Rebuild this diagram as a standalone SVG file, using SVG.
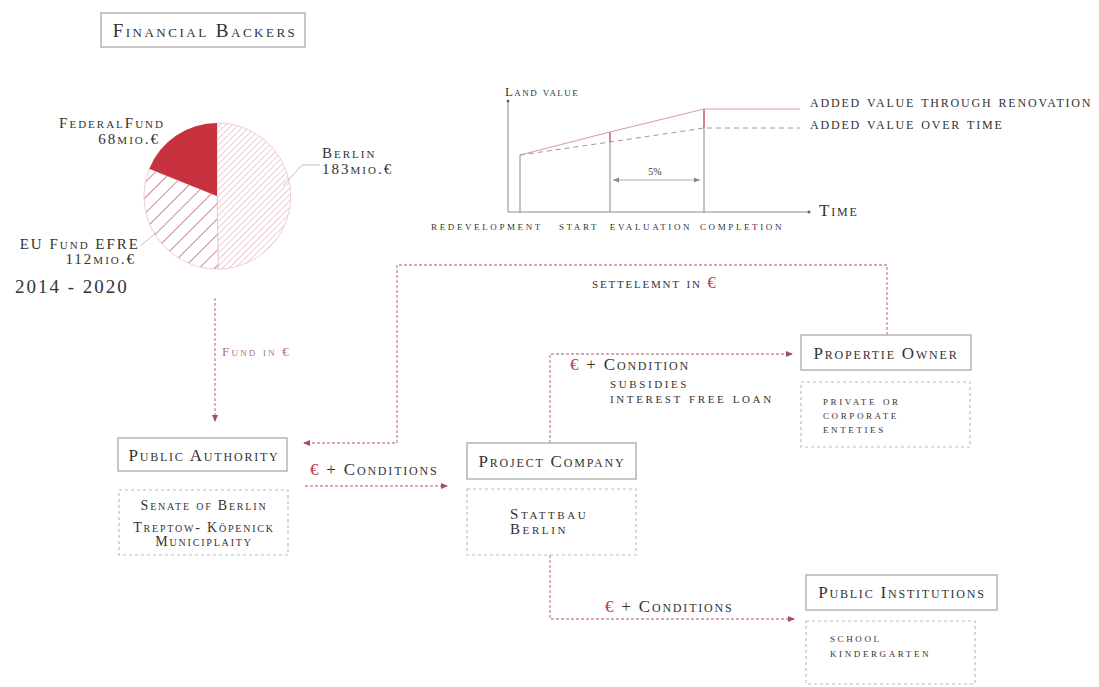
<svg xmlns="http://www.w3.org/2000/svg" width="1099" height="687" viewBox="0 0 1099 687">
  <style>
    text { font-family: "Liberation Serif", "DejaVu Serif", serif; fill: #333; }
    .sc { font-variant: small-caps; }
    .title { font-size: 19px; letter-spacing: 2.5px; }
    .lbl { font-size: 17px; letter-spacing: 1.8px; }
    .sub { font-size: 15px; letter-spacing: 2.6px; }
    .sub2 { font-size: 14px; letter-spacing: 1.8px; }
    .axl { font-size: 17px; letter-spacing: 1.8px; }
    .tiny { font-size: 13px; letter-spacing: 2.6px; }
    .pie { font-size: 15px; letter-spacing: 2px; }
    .eur { fill: #c0405a; }
    .box { fill: #fff; stroke: #b4b4b4; stroke-width: 1.5; }
    .dbox { fill: #fff; stroke: #bdbdbd; stroke-width: 1.2; stroke-dasharray: 3 3; }
    .flow { fill: none; stroke: #c98a9a; stroke-width: 1.3; stroke-dasharray: 3 2; }
    .axis { stroke: #8a8a8a; stroke-width: 1; fill: none; }
  </style>
  <defs>
    <marker id="arr" markerWidth="8" markerHeight="8" refX="6" refY="4" orient="auto" markerUnits="userSpaceOnUse">
      <path d="M0,1 L7,4 L0,7 Z" fill="#a05060"/>
    </marker>
    <marker id="darr" markerWidth="8" markerHeight="8" refX="6" refY="4" orient="auto-start-reverse" markerUnits="userSpaceOnUse">
      <path d="M0,1.5 L6,4 L0,6.5 Z" fill="#888"/>
    </marker>
    <pattern id="fine" patternUnits="userSpaceOnUse" width="4.5" height="4.5" patternTransform="rotate(45)">
      <rect width="4.5" height="4.5" fill="#fff"/>
      <line x1="0" y1="0" x2="0" y2="4.5" stroke="#d9a0a8" stroke-width="1"/>
    </pattern>
    <pattern id="wide" patternUnits="userSpaceOnUse" width="11" height="11" patternTransform="rotate(45)">
      <rect width="11" height="11" fill="#fff"/>
      <line x1="0" y1="0" x2="0" y2="11" stroke="#b04a5a" stroke-width="1.3"/>
    </pattern>
  </defs>

  <!-- Financial backers heading -->
  <g id="financial-backers">
    <rect class="box" x="101" y="13" width="204" height="34"/>
    <text class="sc title" x="205" y="37" text-anchor="middle">Financial Backers</text>
  </g>

  <!-- Funding pie chart -->
  <g id="pie">
    <path d="M217,196 L217,123 A73,73 0 0 1 218.3,269 Z" fill="url(#fine)" stroke="#e6c4c8" stroke-width="0.8"/>
    <path d="M217,196 L218.3,269 A73,73 0 0 1 149.3,168.7 Z" fill="url(#wide)" stroke="#e6c4c8" stroke-width="0.8"/>
    <path d="M217,196 L149.3,168.7 A73,73 0 0 1 217,123 Z" fill="#c8323e"/>
    <polyline points="283,186 302,165 320,165" fill="none" stroke="#b0b0b0" stroke-width="0.8"/>
    <polyline points="140,246 156,233" fill="none" stroke="#b0b0b0" stroke-width="0.8"/>
    <text class="sc pie" x="165" y="128" text-anchor="end">FederalFund</text>
    <text class="sc pie" x="160" y="144" text-anchor="end">68mio.€</text>
    <text class="sc pie" x="322" y="158">Berlin</text>
    <text class="sc pie" x="322" y="174">183mio.€</text>
    <text class="sc pie" x="140" y="249" text-anchor="end">EU Fund EFRE</text>
    <text class="sc pie" x="136" y="264" text-anchor="end">112mio.€</text>
    <text x="15" y="293" style="font-size:19px;letter-spacing:2px">2014 - 2020</text>
  </g>

  <!-- Land value chart -->
  <g id="land-value-chart">
    <line class="axis" x1="508" y1="101" x2="508" y2="212"/>
    <circle cx="508" cy="101" r="1.5" fill="#666"/>
    <line class="axis" x1="508" y1="212" x2="808" y2="212"/>
    <circle cx="809" cy="212" r="1.5" fill="#666"/>
    <line class="axis" x1="520" y1="155" x2="520" y2="212"/>
    <line class="axis" x1="610" y1="142" x2="610" y2="212"/>
    <line class="axis" x1="704" y1="128" x2="704" y2="212"/>
    <line x1="610" y1="132" x2="610" y2="142" stroke="#b8404e" stroke-width="1.3"/>
    <line x1="704" y1="109" x2="704" y2="128" stroke="#b8404e" stroke-width="1.3"/>
    <polyline points="520,155 610,132 704,109 800,109" fill="none" stroke="#d8a0a8" stroke-width="1.2"/>
    <polyline points="520,155 610,142 704,128 800,128" fill="none" stroke="#9a9a9a" stroke-width="1" stroke-dasharray="5 4"/>
    <line x1="613" y1="180" x2="700" y2="180" stroke="#999" stroke-width="0.8" marker-start="url(#darr)" marker-end="url(#darr)"/>
    <text x="655" y="175" text-anchor="middle" style="font-size:10px">5%</text>
    <text class="sc" x="505" y="96" style="font-size:13px;letter-spacing:1.4px">Land value</text>
    <text class="sc" x="819" y="216" style="font-size:17px;letter-spacing:1.8px">Time</text>
    <text class="sc tiny" x="487" y="230" text-anchor="middle">redevelopment</text>
    <text class="sc tiny" x="579" y="230" text-anchor="middle">start</text>
    <text class="sc tiny" x="651" y="230" text-anchor="middle">evaluation</text>
    <text class="sc tiny" x="742" y="230" text-anchor="middle">completion</text>
    <text class="sc axl" x="810" y="107">added value through renovation</text>
    <text class="sc axl" x="810" y="129">added value over time</text>
  </g>

  <!-- Connectors -->
  <g id="connectors">
    <polyline class="flow" points="215,298 215,421" marker-end="url(#arr)"/>
    <polyline class="flow" points="887,335 887,265 397,265 397,443 304,443" marker-end="url(#arr)"/>
    <polyline class="flow" points="305,486 447,486" marker-end="url(#arr)"/>
    <polyline class="flow" points="550,443 550,354 792,354" marker-end="url(#arr)"/>
    <polyline class="flow" points="550,555 550,619 794,619" marker-end="url(#arr)"/>
    <text class="sc" x="222" y="356" style="font-size:13px;letter-spacing:2.2px;fill:#b07080">Fund in €</text>
    <text class="sc" x="592" y="288" style="font-size:15px;letter-spacing:1.8px">settelemnt in <tspan class="eur" style="font-size:17px">€</tspan></text>
    <text class="sc lbl" x="310" y="475"><tspan class="eur">€</tspan> + Conditions</text>
    <text class="sc lbl" x="570" y="370"><tspan class="eur">€</tspan> + Condition</text>
    <text class="sc sub" x="610" y="388">subsidies</text>
    <text class="sc sub" x="610" y="403">interest free loan</text>
    <text class="sc lbl" x="605" y="612"><tspan class="eur">€</tspan> + Conditions</text>
  </g>

  <!-- Public authority -->
  <g id="public-authority">
    <rect class="box" x="118" y="438" width="169" height="33"/>
    <text class="sc lbl" x="204" y="461" text-anchor="middle">Public Authority</text>
    <rect class="dbox" x="119" y="490" width="169" height="65"/>
    <text class="sc sub2" x="204" y="510" text-anchor="middle">Senate of Berlin</text>
    <text class="sc sub2" x="204" y="532" text-anchor="middle">Treptow- Köpenick</text>
    <text class="sc sub2" x="204" y="546" text-anchor="middle">Municiplaity</text>
  </g>

  <!-- Project company -->
  <g id="project-company">
    <rect class="box" x="467" y="443" width="169" height="36"/>
    <text class="sc lbl" x="552" y="467" text-anchor="middle">Project Company</text>
    <rect class="dbox" x="467" y="489" width="169" height="66"/>
    <text class="sc sub" x="510" y="519">Stattbau</text>
    <text class="sc sub" x="510" y="534">Berlin</text>
  </g>

  <!-- Property owner -->
  <g id="property-owner">
    <rect class="box" x="801" y="335" width="170" height="35"/>
    <text class="sc lbl" x="886" y="359" text-anchor="middle">Propertie Owner</text>
    <rect class="dbox" x="801" y="382" width="169" height="65"/>
    <text class="sc tiny" x="823" y="405">private or</text>
    <text class="sc tiny" x="823" y="419">corporate</text>
    <text class="sc tiny" x="823" y="433">enteties</text>
  </g>

  <!-- Public institutions -->
  <g id="public-institutions">
    <rect class="box" x="806" y="575" width="191" height="35"/>
    <text class="sc lbl" x="902" y="598" text-anchor="middle">Public Institutions</text>
    <rect class="dbox" x="806" y="621" width="169" height="63"/>
    <text class="sc tiny" x="830" y="642">school</text>
    <text class="sc tiny" x="830" y="657">kindergarten</text>
  </g>
</svg>
